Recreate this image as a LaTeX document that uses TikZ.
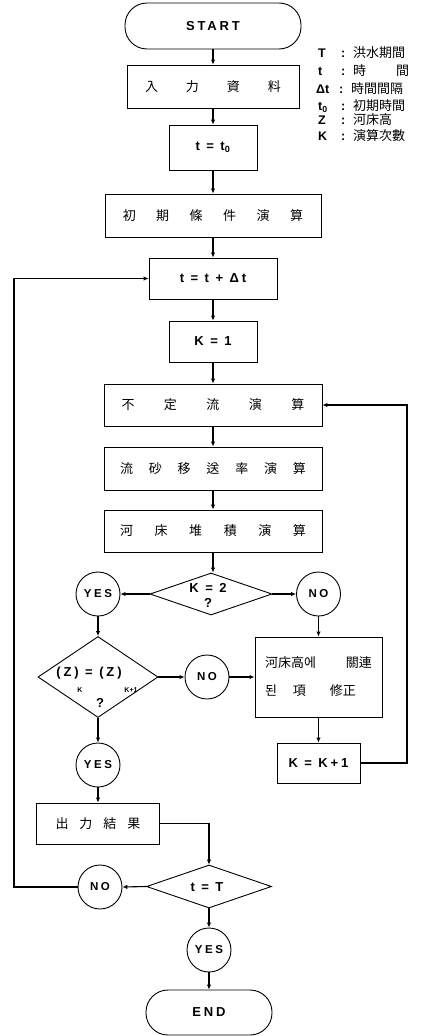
\documentclass[tikz,border=0pt]{standalone}
\usepackage{fontspec}
\setmainfont{Liberation Sans}
\newfontfamily\cjk{Noto Sans CJK KR}
\newfontfamily\lat[LetterSpace=22]{Liberation Sans}
\usetikzlibrary{shapes.geometric,arrows.meta}
\tikzset{
  fr/.style={draw, line width=0.9pt, inner sep=0pt},
  box/.style={fr, rectangle},
  term/.style={fr, rectangle, rounded corners=22pt},
  dec/.style={fr, diamond},
  circ/.style={fr, circle, minimum size=44pt, font=\lat\bfseries\fontsize{11.5}{13}\selectfont},
  lbl/.style={inner sep=0pt, font=\lat\bfseries\fontsize{13}{15}\selectfont},
  sublbl/.style={inner sep=0pt, font=\bfseries\fontsize{7}{8}\selectfont},
  ck/.style={font=\cjk\fontsize{13}{15}\selectfont},
  leg/.style={inner sep=0pt, anchor=west, font=\bfseries\fontsize{12.5}{14}\selectfont},
  conn/.style={line width=1.1pt, -{Latex[length=5pt,width=4.5pt]}}
}
\newcommand{\legline}[2]{\makebox[15pt][l]{#1}\makebox[20pt][c]{:}{\cjk\mdseries\fontsize{13}{15}\selectfont #2}}
\begin{document}
\begin{tikzpicture}[x=1pt,y=-1pt]
\useasboundingbox (0,0) rectangle (428,1036);
% main column
\node[term, lbl, minimum width=176pt, minimum height=46pt] (start) at (213,26) {START};
\node[box, ck, minimum width=172pt, minimum height=43pt] (input) at (213,86.5) {入\hspace{28pt}力\hspace{28pt}資\hspace{28pt}料};
\node[box, lbl, minimum width=88pt, minimum height=45pt] (t0) at (213,147.5) {t = t\textsubscript{0}};
\node[box, ck, minimum width=216pt, minimum height=43pt] (init) at (213,215.5) {初\hspace{20.5pt}期\hspace{20.5pt}條\hspace{20.5pt}件\hspace{20.5pt}演\hspace{20.5pt}算};
\node[box, lbl, minimum width=128pt, minimum height=41pt] (tdt) at (213,278.5) {t = t + Δt};
\node[box, lbl, minimum width=88pt, minimum height=41pt] (k1) at (213,341.5) {K = 1};
\node[box, ck, minimum width=218pt, minimum height=42pt] (unst) at (213,405) {不\hspace{29.5pt}定\hspace{29.5pt}流\hspace{29.5pt}演\hspace{29.5pt}算};
\node[box, ck, minimum width=218pt, minimum height=43pt] (sed) at (213,468.5) {流\hspace{15.8pt}砂\hspace{15.8pt}移\hspace{15.8pt}送\hspace{15.8pt}率\hspace{15.8pt}演\hspace{15.8pt}算};
\node[box, ck, minimum width=218pt, minimum height=42pt] (bed) at (213,531) {河\hspace{21.6pt}床\hspace{21.6pt}堆\hspace{21.6pt}積\hspace{21.6pt}演\hspace{21.6pt}算};
\node[dec, minimum width=122pt, minimum height=42pt] (d1) at (211,594) {};
\node[lbl, align=center] (d1t) at (208,595) {K = 2\\?};
\node[circ] (yes1) at (98,594) {YES};
\node[circ] (no1) at (318.5,594) {NO};
% left branch
\node[dec, minimum width=120pt, minimum height=81pt] (d2) at (98,677) {};
\node[lbl] (d2t) at (89,673) {(Z) = (Z)};
\node[sublbl] (d2k) at (80,690) {K};
\node[sublbl] (d2k1) at (131,690) {K+1};
\node[lbl] (d2q) at (100,703) {?};
\node[circ] (no2) at (207,677) {NO};
\node[box, ck, minimum width=127pt, minimum height=80pt, align=left, font=\cjk\fontsize{13}{28}\selectfont] (mod) at (318.5,677) {河床高에\hspace{30pt}關連\\된\hspace{16pt}項\hspace{24pt}修正};
\node[box, lbl, minimum width=83pt, minimum height=40pt] (kk1) at (318.5,763) {K = K+1};
\node[circ] (yes2) at (98,765) {YES};
\node[box, ck, minimum width=123pt, minimum height=41pt] (out) at (98,823.5) {出\hspace{11pt}力\hspace{11pt}結\hspace{11pt}果};
\node[dec, minimum width=125pt, minimum height=43pt] (d3) at (209,886.5) {};
\node[lbl] (d3t) at (207,887) {t = T};
\node[circ] (no3) at (100,887) {NO};
\node[circ] (yes3) at (209,950) {YES};
\node[term, lbl, minimum width=126pt, minimum height=45pt] (end) at (209,1012.5) {END};
% legend
\node[leg] (l1) at (318,53) {\legline{T}{洪水期間}};
\node[leg] (l2) at (318,71) {\legline{t}{時\hspace{30pt}間}};
\node[leg] (l3) at (316,89) {\legline{Δt}{時間間隔}};
\node[leg] (l4) at (318,106) {\legline{t\textsubscript{0}}{初期時間}};
\node[leg] (l5) at (318,120) {\legline{Z}{河床高}};
\node[leg] (l6) at (318,136) {\legline{K}{演算次數}};
% loop coordinates
\coordinate (rx) at (407,0);
\coordinate (lx) at (14,0);
% connectors
\draw[conn] (start) -- (input);
\draw[conn] (input) -- (t0);
\draw[conn] (t0) -- (init);
\draw[conn] (init) -- (tdt);
\draw[conn] (tdt) -- (k1);
\draw[conn] (k1) -- (unst);
\draw[conn] (unst) -- (sed);
\draw[conn] (sed) -- (bed);
\draw[conn] (bed.south) -- (bed.south |- d1.north);
\draw[conn] (d1.west) -- (yes1.east);
\draw[conn] (d1.east) -- (no1.west);
\draw[conn] (yes1) -- (d2);
\draw[conn] (no1) -- (mod);
\draw[conn] (d2.east) -- (no2.west);
\draw[conn] (no2.east) -- (mod.west);
\draw[conn] (mod) -- (kk1);
\draw[conn] (kk1.east) -- (kk1.east -| rx) |- (unst.east);
\draw[conn] (d2.south) -- (yes2.north);
\draw[conn] (yes2) -- (out);
\draw[conn] (out.east) -| (d3.north);
\draw[conn] (d3.west) -- (no3.east);
\draw[conn] (no3.west) -- (no3.west -| lx) |- (tdt.west);
\draw[conn] (d3.south) -- (yes3.north);
\draw[conn] (yes3) -- (end);
\end{tikzpicture}
\end{document}
